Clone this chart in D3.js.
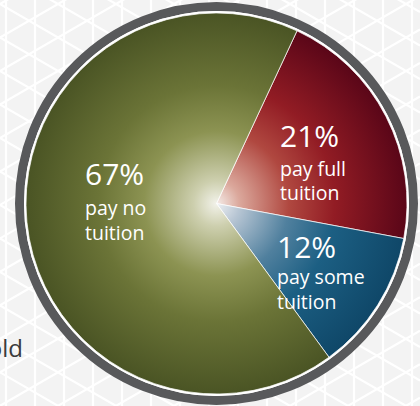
<!DOCTYPE html>
<html>
<head>
<meta charset="utf-8">
<script src="https://cdn.jsdelivr.net/npm/d3@7"></script>
<style>
  html, body { margin: 0; padding: 0; background: #f3f3f3; }
  #chart { width: 420px; height: 406px; overflow: hidden; }
  text { font-family: "Open Sans", "Noto Sans", sans-serif; }
</style>
</head>
<body>
<div id="chart"></div>
<script>
// share of students by tuition paid
const categories = ['pay full tuition', 'pay some tuition', 'pay no tuition'];
const shares = [21, 12, 67];
const pctLabels = ['21%', '12%', '67%'];
const subLabels = [['pay full', 'tuition'], ['pay some', 'tuition'], ['pay no', 'tuition']];

const width = 420, height = 406;
const cx = 216.5, cy = 203.5, radius = 190.5;

// gradient stops per slice (center glow -> edge)
const palettes = [
    ['#f4ece8', '#dba89c', '#b04840', '#921c24', '#5a0618'],
    ['#eef0f2', '#b8c6d4', '#50809e', '#1c5f83', '#0f4768'],
    ['#f2f2ea', '#cdcfae', '#8c9352', '#6b7437', '#4a5424']
];

// label placement (left edge, baselines of the three lines)
const labelPos = [
    {x: 280, y: [147, 176, 200]},
    {x: 277, y: [258, 284, 309]},
    {x: 85, y: [185, 215, 240]}
];

const svg = d3.select('#chart')
    .append('svg')
    .attr('width', width)
    .attr('height', height);

const defs = svg.append('defs');

// triangle lattice background
svg.append('rect').attr('width', width).attr('height', height).attr('fill', '#f3f3f3');
const bg = svg.append('g').attr('stroke', '#ffffff').attr('stroke-width', 2.2);
const h = 29, a = h * 2 / Math.sqrt(3), t30 = Math.tan(Math.PI / 6);
for (let k = -1; k * h < width + h; k++) {
    bg.append('line').attr('x1', 6 + k * h).attr('x2', 6 + k * h).attr('y1', 0).attr('y2', height);
}
for (let m = -30; m < 30; m++) {
    const c = 4 + m * a;
    bg.append('line').attr('x1', 0).attr('y1', c).attr('x2', width).attr('y2', c + width * t30);
    bg.append('line').attr('x1', 0).attr('y1', c).attr('x2', width).attr('y2', c - width * t30);
}

// cut-off text on the left
svg.append('text')
    .attr('x', 23)
    .attr('y', 357)
    .attr('text-anchor', 'end')
    .attr('fill', '#3b3b3b')
    .style('font-size', '24px')
    .text('household');

// gradients live in the slice group's coordinates (origin = pie center)
palettes.forEach((p, i) => {
    const grad = defs.append('radialGradient')
        .attr('id', 'grad' + i)
        .attr('gradientUnits', 'userSpaceOnUse')
        .attr('cx', 0).attr('cy', 0).attr('r', radius);
    [0, 0.12, 0.38, 0.62, 1].forEach((o, j) => {
        grad.append('stop').attr('offset', o).attr('stop-color', p[j]);
    });
});

// outer ring
svg.append('circle')
    .attr('cx', cx).attr('cy', cy)
    .attr('r', radius + 6.5)
    .attr('fill', 'none')
    .attr('stroke', '#58595b')
    .attr('stroke-width', 9);
svg.append('circle')
    .attr('cx', cx).attr('cy', cy)
    .attr('r', radius + 1)
    .attr('fill', 'none')
    .attr('stroke', '#ffffff')
    .attr('stroke-width', 2);

const pie = d3.pie()
    .sort(null)
    .value(d => d)
    .startAngle(25 * Math.PI / 180)
    .endAngle(25 * Math.PI / 180 + 2 * Math.PI);

const arc = d3.arc().innerRadius(0).outerRadius(radius);

const g = svg.append('g').attr('transform', `translate(${cx},${cy})`);

g.selectAll('path')
    .data(pie(shares))
    .enter()
    .append('path')
    .attr('d', arc)
    .attr('fill', (d, i) => `url(#grad${i})`)
    .attr('stroke', '#ffffff')
    .attr('stroke-width', 0.8)
    .attr('stroke-opacity', 0.9);

// labels
categories.forEach((c, i) => {
    const lp = labelPos[i];
    const t = svg.append('g').attr('fill', '#ffffff');
    t.append('text').attr('x', lp.x).attr('y', lp.y[0]).style('font-size', '30px').text(pctLabels[i]);
    subLabels[i].forEach((s, j) => {
        t.append('text').attr('x', lp.x).attr('y', lp.y[j + 1]).style('font-size', '19.5px').text(s);
    });
});
</script>
</body>
</html>
